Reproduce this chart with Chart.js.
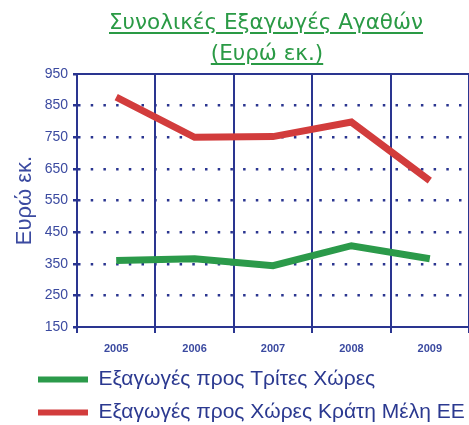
<!DOCTYPE html>
<html>
<head>
<meta charset="utf-8">
<script src="https://cdn.jsdelivr.net/npm/chart.js@4"></script>
<style>
  body { margin: 0; background: #fff; }
  #wrap { position: relative; width: 469px; height: 425px; overflow: hidden; }
  .titulo { position: absolute; color: #2a9a45; font-family: "DejaVu Sans", Verdana, sans-serif;
            font-size: 21.5px; line-height: 1;
            text-decoration: underline; text-decoration-thickness: 2px; text-underline-offset: 3px;
            white-space: nowrap; transform: translateX(-50%); }
  #t1 { left: 266px; top: 11px; }
  #t2 { left: 267px; top: 42px; }
</style>
</head>
<body>
<div id="wrap">
  <canvas id="grafico" width="469" height="425"></canvas>
  <div class="titulo" id="t1">Συνολικές Εξαγωγές Αγαθών</div>
  <div class="titulo" id="t2">(Ευρώ εκ.)</div>
</div>
<script>
const anos = ["2005", "2006", "2007", "2008", "2009"];
const tritesXores = [360, 366, 344, 407, 366];
const kratiMeli = [877, 750, 752, 798, 613];
const nomeTriites = "Εξαγωγές προς Τρίτες Χώρες";
const nomeKrati = "Εξαγωγές προς Χώρες Κράτη Μέλη ΕΕ";

const azul = "#2a3590";
const textoAzul = "#3b4aa0";
const fonte = "'Liberation Sans', Arial, sans-serif";

// borda de cima e ajuste da legenda
const moldura = {
  id: "moldura",
  afterLayout(chart) {
    chart.legend.left += 26;
  },
  afterDraw(chart) {
    const { ctx, chartArea } = chart;
    ctx.save();
    ctx.strokeStyle = azul;
    ctx.lineWidth = 2;
    ctx.beginPath();
    ctx.moveTo(chartArea.left, chartArea.top);
    ctx.lineTo(chartArea.right, chartArea.top);
    ctx.stroke();
    ctx.restore();
  }
};

new Chart(document.getElementById("grafico"), {
  type: "line",
  data: {
    labels: anos,
    datasets: [
      {
        label: nomeTriites,
        data: tritesXores,
        borderColor: "#2b9a4a",
        backgroundColor: "#2b9a4a",
        borderWidth: 7,
        pointRadius: 0,
        tension: 0
      },
      {
        label: nomeKrati,
        data: kratiMeli,
        borderColor: "#d23c3c",
        backgroundColor: "#d23c3c",
        borderWidth: 7,
        pointRadius: 0,
        tension: 0
      }
    ]
  },
  options: {
    responsive: false,
    animation: false,
    layout: { padding: { top: 74, left: 0, right: -3, bottom: -8 } },
    plugins: {
      tooltip: { enabled: false },
      legend: {
        position: "bottom",
        align: "start",
        labels: {
          boxWidth: 50,
          boxHeight: 6,
          padding: 12,
          color: "#2b3990",
          font: { family: fonte, size: 21 },
          generateLabels: (chart) =>
            Chart.defaults.plugins.legend.labels.generateLabels(chart).map(l => ({ ...l, lineWidth: 0 }))
        }
      }
    },
    scales: {
      x: {
        offset: true,
        grid: { offset: true, color: azul, lineWidth: 2, tickLength: 6 },
        border: { color: azul, width: 2 },
        ticks: {
          color: textoAzul,
          padding: 9,
          font: { family: fonte, size: 11, weight: "bold" }
        },
        afterFit: (s) => { s.height = 30; }
      },
      y: {
        min: 150,
        max: 950,
        ticks: {
          stepSize: 100,
          color: textoAzul,
          padding: 5,
          font: { family: fonte, size: 14 }
        },
        grid: {
          color: (c) => (c.tick && (c.tick.value === 150 || c.tick.value === 950)) ? "rgba(0,0,0,0)" : azul,
          tickColor: azul,
          lineWidth: 2.5,
          tickLength: 4,
          tickBorderDash: []
        },
        border: { color: azul, width: 2, dash: [2.5, 10.2] },
        title: {
          display: true,
          text: "Ευρώ εκ.",
          color: textoAzul,
          padding: { top: 14, bottom: 0 },
          font: { family: fonte, size: 22, lineHeight: 1 }
        },
        afterFit: (s) => { s.width = 77; }
      }
    }
  },
  plugins: [moldura]
});
</script>
</body>
</html>
